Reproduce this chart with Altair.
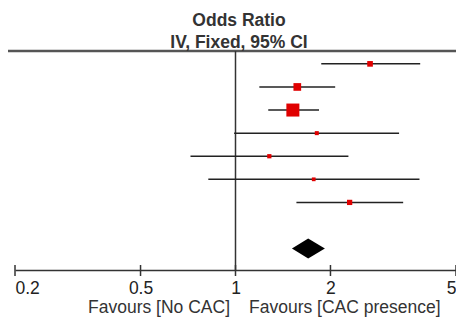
import altair as alt
import pandas as pd

# Study rows (top to bottom)
row = [1, 2, 3, 4, 5, 6, 7]
odds_ratio = [2.67, 1.57, 1.52, 1.81, 1.28, 1.77, 2.30]
ci_low = [1.87, 1.19, 1.27, 0.99, 0.72, 0.82, 1.56]
ci_high = [3.85, 2.07, 1.84, 3.30, 2.28, 3.83, 3.40]
weight = [9.5, 17.6, 50.3, 4.8, 5.4, 4.2, 8.3]

# Pooled estimate (diamond)
pooled_row = 9
pooled_or = 1.70
pooled_low = 1.51
pooled_high = 1.92

tick_values = [0.2, 0.5, 1, 2, 5]
header_lines = ["Odds Ratio", "IV, Fixed, 95% CI"]
favours_left = "Favours [No CAC]"
favours_right = "Favours [CAC presence]"

PADL = 7
W, H = 441, 219
FONT = "Liberation Sans"
HALF = 0.433  # diamond half-height in row units

studies = pd.DataFrame({"row": row, "or": odds_ratio, "lo": ci_low,
                        "hi": ci_high, "w": weight})
diamond = pd.DataFrame({
    "x": [pooled_low, pooled_or, pooled_high],
    "y": [pooled_row, pooled_row - HALF, pooled_row],
    "y2": [pooled_row, pooled_row + HALF, pooled_row],
})
ticks = pd.DataFrame({"t": tick_values})

xscale = alt.Scale(type="log", domain=[0.2, 5], nice=False)
yscale = alt.Scale(domain=[0.443, 9.927], reverse=True, nice=False, zero=False)
xaxis = alt.Axis(values=tick_values, format="~g", title=None, grid=False,
                 ticks=False, labelPadding=9, labelFontSize=17.5, labelFont=FONT,
                 labelColor="#222", labelFlush=6, domainColor="#333",
                 domainWidth=1.5)

ci = alt.Chart(studies).mark_rule(color="#222", strokeWidth=1.5).encode(
    x=alt.X("lo:Q", scale=xscale, axis=xaxis),
    x2="hi:Q",
    y=alt.Y("row:Q", scale=yscale, axis=None),
)

squares = alt.Chart(studies).mark_square(color="#e00000", opacity=1).encode(
    x=alt.X("or:Q", scale=xscale, axis=xaxis),
    y=alt.Y("row:Q", scale=yscale, axis=None),
    size=alt.Size("w:Q", scale=alt.Scale(domain=[0, 50.3], range=[0, 169]),
                  legend=None),
)

dia = alt.Chart(diamond).mark_area(color="black", opacity=1).encode(
    x=alt.X("x:Q", scale=xscale, axis=xaxis),
    y=alt.Y("y:Q", scale=yscale, axis=None),
    y2="y2:Q",
)

vline = alt.Chart(ticks).mark_rule(color="#333", strokeWidth=1.5).encode(
    x=alt.X("t:Q", scale=xscale, axis=xaxis),
    y=alt.value(0), y2=alt.value(H),
).transform_filter("datum.t == 1")

tickmarks = alt.Chart(ticks).mark_rule(color="#333", strokeWidth=1.5).encode(
    x=alt.X("t:Q", scale=xscale, axis=xaxis),
    y=alt.value(H - 5), y2=alt.value(H + 6),
)

topline = alt.Chart(ticks).mark_rule(color="#555", strokeWidth=2.5).encode(
    x=alt.value(-PADL), x2=alt.value(W), y=alt.value(0),
).transform_filter("datum.t == 1")

title1 = alt.Chart(pd.DataFrame({"s": [header_lines[0]]})).mark_text(
    font=FONT, fontSize=17.5, fontWeight="bold", color="#333",
    align="center", baseline="middle").encode(
    text="s:N", x=alt.value(239 - 8 - PADL), y=alt.value(-30))
title2 = alt.Chart(pd.DataFrame({"s": [header_lines[1]]})).mark_text(
    font=FONT, fontSize=17.5, fontWeight="bold", color="#333",
    align="center", baseline="middle").encode(
    text="s:N", x=alt.value(239 - 8 - PADL), y=alt.value(-8))
fav_l = alt.Chart(pd.DataFrame({"s": [favours_left]})).mark_text(
    font=FONT, fontSize=17.5, color="#333", align="right",
    baseline="middle").encode(text="s:N", x=alt.value(230 - 8 - PADL),
                              y=alt.value(257))
fav_r = alt.Chart(pd.DataFrame({"s": [favours_right]})).mark_text(
    font=FONT, fontSize=17.5, color="#333", align="left",
    baseline="middle").encode(text="s:N", x=alt.value(249 - 8 - PADL),
                              y=alt.value(257))

chart = alt.layer(
    topline, vline, ci, squares, dia, tickmarks, title1, title2, fav_l, fav_r
).properties(
    width=W, height=H,
    padding={"left": PADL, "top": 43, "right": 0, "bottom": 47},
    autosize=alt.AutoSizeParams(type="none"),
    background="white",
).configure_view(stroke=None)

chart.save("out.html", embed_options={"renderer": "svg", "actions": False})
